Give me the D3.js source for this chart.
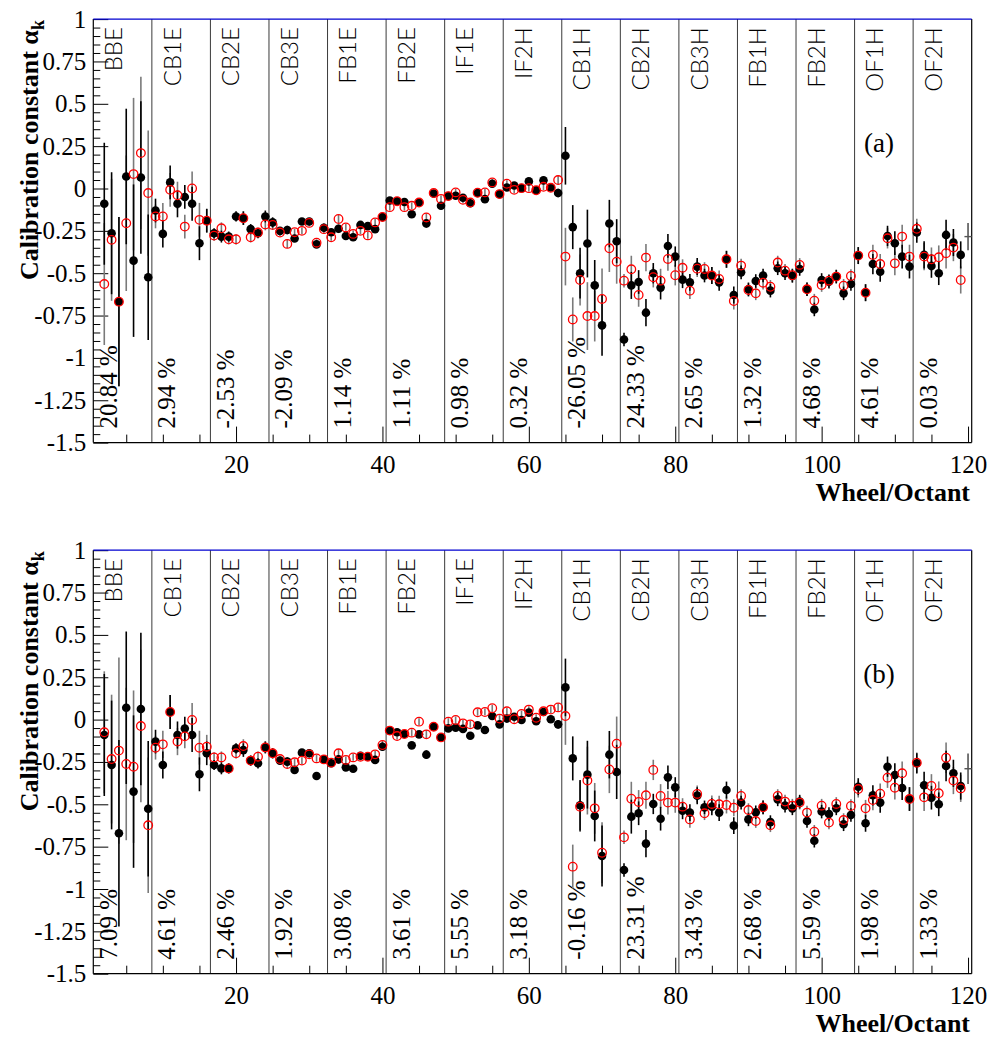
<!DOCTYPE html>
<html><head><meta charset="utf-8">
<script src="https://cdn.jsdelivr.net/npm/d3@7"></script>
<style>body{margin:0;background:#fff}svg{display:block}</style>
</head><body>
<svg id="c" width="989" height="1037"></svg>
<script>
// ---------------- data ----------------
const sections = ["BBE","CB1E","CB2E","CB3E","FB1E","FB2E","IF1E","IF2H","CB1H","CB2H","CB3H","FB1H","FB2H","OF1H","OF2H"];
const octantsPerSection = 8;
const pctA = ["20.84 %","2.94 %","-2.53 %","-2.09 %","1.14 %","1.11 %","0.98 %","0.32 %","-26.05 %","24.33 %","2.65 %","1.32 %","4.68 %","4.61 %","0.03 %"];
const pctB = ["7.09 %","4.61 %","2.46 %","1.92 %","3.08 %","3.61 %","5.55 %","3.18 %","-0.16 %","23.31 %","3.43 %","2.68 %","5.59 %","1.98 %","1.33 %"];
const xTickValues = [20,40,60,80,100,120];
const yTickValues = [1,0.75,0.5,0.25,0,-0.25,-0.5,-0.75,-1,-1.25,-1.5];
const panelTags = ["(a)","(b)"];

// panel (a): black = filled points, red = open points, index k = 1..120
const blackA = [null,-0.09,-0.264,-0.668,0.071,-0.426,0.065,-0.524,
 -0.13,-0.268,0.036,-0.09,-0.05,-0.09,-0.323,-0.19,
 -0.264,-0.284,-0.284,-0.165,-0.175,-0.24,-0.264,-0.165,
 -0.2,-0.25,-0.245,-0.295,-0.195,-0.195,-0.33,-0.232,
 -0.258,-0.238,-0.28,-0.288,-0.215,-0.222,-0.24,-0.168,
 -0.071,-0.075,-0.08,-0.152,-0.083,-0.206,-0.03,-0.102,
 -0.045,-0.043,-0.055,-0.087,-0.027,-0.063,0.028,-0.033,
 0.006,0.018,0.002,0.042,-0.01,0.048,0.006,-0.027,
 0.193,-0.228,-0.5,-0.325,-0.572,-0.808,-0.207,-0.311,
 -0.891,-0.572,-0.552,-0.733,-0.5,-0.585,-0.339,-0.402,
 -0.538,-0.554,-0.461,-0.514,-0.514,-0.554,-0.418,-0.629,
 -0.495,-0.595,-0.546,-0.514,-0.603,-0.471,-0.5,-0.516,
 -0.475,-0.595,-0.714,-0.54,-0.55,-0.52,-0.619,-0.564,
 -0.396,-0.615,-0.446,-0.491,-0.28,-0.323,-0.402,-0.461,
 -0.26,-0.392,-0.457,-0.5,-0.274,-0.319,-0.392,null];
const redA = [null,-0.564,-0.303,-0.668,-0.205,0.085,0.209,-0.027,
 -0.165,-0.165,-0.008,-0.04,-0.225,0.0,-0.185,-0.19,
 -0.278,-0.235,-0.3,-0.3,-0.175,-0.288,-0.26,-0.212,
 -0.215,-0.26,-0.327,-0.258,-0.25,-0.203,-0.32,-0.24,
 -0.288,-0.18,-0.23,-0.268,-0.25,-0.277,-0.2,-0.168,
 -0.11,-0.075,-0.11,-0.102,-0.083,-0.171,-0.027,-0.062,
 -0.045,-0.023,-0.067,-0.083,-0.025,-0.023,0.036,-0.033,
 0.028,-0.008,0.002,0.002,-0.01,0.01,0.004,0.05,
 -0.402,-0.773,-0.54,-0.753,-0.753,-0.652,-0.353,-0.432,
 -0.544,-0.477,-0.628,-0.408,-0.524,-0.544,-0.416,-0.512,
 -0.468,-0.603,-0.473,-0.475,-0.514,-0.534,-0.418,-0.664,
 -0.455,-0.599,-0.619,-0.556,-0.58,-0.437,-0.485,-0.512,
 -0.451,-0.595,-0.662,-0.57,-0.544,-0.52,-0.574,-0.516,
 -0.396,-0.615,-0.392,-0.446,-0.294,-0.442,-0.284,-0.402,
 -0.238,-0.402,-0.418,-0.406,-0.382,-0.349,-0.54,null];
const errA = [null,0.36,0.36,0.5,0.4,0.45,0.45,0.37,
 0.07,0.08,0.1,0.08,0.07,0.1,0.1,0.07,
 0.03,0.035,0.03,0.03,0.04,0.03,0.03,0.035,
 0.03,0.02,0.025,0.02,0.02,0.02,0.02,0.025,
 0.02,0.025,0.02,0.02,0.02,0.02,0.02,0.025,
 0.02,0.02,0.02,0.02,0.02,0.025,0.02,0.02,
 0.02,0.02,0.02,0.02,0.02,0.02,0.02,0.02,
 0.02,0.02,0.02,0.02,0.02,0.02,0.02,0.025,
 0.17,0.13,0.15,0.2,0.15,0.18,0.14,0.13,
 0.04,0.08,0.07,0.08,0.06,0.07,0.07,0.06,
 0.05,0.05,0.05,0.04,0.05,0.05,0.05,0.05,
 0.04,0.04,0.04,0.04,0.04,0.04,0.04,0.04,
 0.04,0.04,0.04,0.04,0.04,0.04,0.04,0.04,
 0.05,0.05,0.06,0.06,0.06,0.07,0.07,0.07,
 0.06,0.08,0.07,0.07,0.09,0.08,0.08,null];

// panel (b)
const blackB = [null,-0.091,-0.268,-0.671,0.07,-0.425,0.063,-0.526,
 -0.13,-0.268,0.045,-0.091,-0.053,-0.091,-0.323,-0.199,
 -0.268,-0.288,-0.288,-0.17,-0.18,-0.242,-0.258,-0.164,
 -0.199,-0.242,-0.248,-0.297,-0.195,-0.199,-0.333,-0.235,
 -0.258,-0.235,-0.282,-0.29,-0.213,-0.219,-0.238,-0.16,
 -0.065,-0.075,-0.085,-0.152,-0.087,-0.207,-0.042,-0.105,
 -0.052,-0.048,-0.055,-0.095,-0.034,-0.061,0.021,-0.028,
 0.006,0.017,-0.002,0.041,-0.01,0.045,0.002,-0.028,
 0.19,-0.229,-0.506,-0.325,-0.569,-0.805,-0.207,-0.309,
 -0.888,-0.573,-0.553,-0.732,-0.498,-0.585,-0.341,-0.4,
 -0.538,-0.549,-0.449,-0.518,-0.514,-0.549,-0.416,-0.626,
 -0.49,-0.589,-0.547,-0.518,-0.605,-0.471,-0.508,-0.524,
 -0.484,-0.599,-0.715,-0.543,-0.557,-0.524,-0.618,-0.563,
 -0.396,-0.612,-0.447,-0.49,-0.278,-0.327,-0.404,-0.469,
 -0.258,-0.388,-0.461,-0.5,-0.274,-0.317,-0.392,null];
const redB = [null,-0.075,-0.233,-0.183,-0.262,-0.278,-0.038,-0.624,
 -0.166,-0.146,0.045,-0.13,-0.099,-0.002,-0.166,-0.16,
 -0.223,-0.223,-0.288,-0.199,-0.156,-0.242,-0.219,-0.164,
 -0.199,-0.233,-0.262,-0.252,-0.242,-0.205,-0.229,-0.235,
 -0.254,-0.199,-0.238,-0.223,-0.219,-0.219,-0.205,-0.15,
 -0.065,-0.097,-0.085,-0.077,-0.012,-0.087,-0.042,-0.105,
 -0.012,-0.002,-0.022,-0.028,0.043,0.045,0.067,0.006,
 0.049,0.002,0.033,0.059,0.011,0.049,0.059,0.072,
 0.021,-0.868,-0.514,-0.36,-0.524,-0.786,-0.294,-0.142,
 -0.695,-0.467,-0.486,-0.447,-0.297,-0.451,-0.49,-0.49,
 -0.514,-0.589,-0.439,-0.553,-0.498,-0.5,-0.504,-0.52,
 -0.451,-0.534,-0.599,-0.518,-0.624,-0.451,-0.484,-0.508,
 -0.49,-0.549,-0.662,-0.508,-0.608,-0.498,-0.593,-0.51,
 -0.41,-0.524,-0.475,-0.437,-0.343,-0.402,-0.317,-0.469,
 -0.254,-0.459,-0.392,-0.435,-0.225,-0.36,-0.406,null];
const errB = [null,0.36,0.38,0.55,0.45,0.45,0.45,0.4,
 0.07,0.08,0.1,0.08,0.07,0.1,0.1,0.07,
 0.03,0.035,0.03,0.03,0.04,0.03,0.03,0.035,
 0.03,0.02,0.025,0.02,0.02,0.02,0.02,0.025,
 0.02,0.025,0.02,0.02,0.02,0.02,0.02,0.025,
 0.02,0.02,0.02,0.02,0.02,0.025,0.02,0.02,
 0.02,0.02,0.02,0.02,0.02,0.02,0.02,0.02,
 0.02,0.02,0.02,0.02,0.02,0.02,0.02,0.025,
 0.17,0.13,0.15,0.2,0.15,0.18,0.14,0.16,
 0.04,0.1,0.07,0.08,0.06,0.07,0.07,0.06,
 0.05,0.05,0.05,0.04,0.05,0.05,0.05,0.05,
 0.04,0.04,0.04,0.04,0.04,0.04,0.04,0.04,
 0.04,0.04,0.04,0.04,0.04,0.04,0.04,0.04,
 0.05,0.05,0.06,0.06,0.06,0.07,0.07,0.07,
 0.06,0.08,0.07,0.07,0.09,0.08,0.08,null];

// last bin (k = 120): drawn as an error cross only
const edgeIndex = 120;
const edgeValues = [-0.284, -0.29];
const edgeErrors = [0.08, 0.09];

// ---------------- drawing ----------------
const svg = d3.select("#c");
const nBins = sections.length * octantsPerSection;
const x = d3.scaleLinear().domain([0.5, nBins + 0.5]).range([93.3, 971.7]);
const serif = "'Liberation Serif', 'Times New Roman', serif";

function drawPanel(top, bottom, black, red, err, edgeV, edgeE, pct, tag) {
  const y = d3.scaleLinear().domain([-1.5, 1]).range([bottom, top]);
  const g = svg.append("g");

  // section dividers
  const bounds = d3.range(1, sections.length).map(i => i * octantsPerSection + 0.5);
  g.selectAll("line.div").data(bounds).join("line")
    .attr("x1", d => x(d)).attr("x2", d => x(d))
    .attr("y1", top).attr("y2", bottom)
    .attr("stroke", "#3a3a3a").attr("stroke-width", 1);

  // axes: x
  const xMinor = d3.range(5, nBins + 1, 5).filter(v => v % 20 !== 0);
  g.append("g").attr("transform", `translate(0,${bottom})`)
    .call(d3.axisBottom(x).tickValues(xMinor).tickSize(-8).tickFormat(""))
    .call(a => a.select(".domain").remove())
    .call(a => a.selectAll("line").attr("stroke", "#000"));
  g.append("g").attr("transform", `translate(0,${bottom})`)
    .call(d3.axisBottom(x).tickValues(xTickValues).tickSize(-16).tickPadding(13).tickFormat(d => String(d)))
    .call(a => a.select(".domain").remove())
    .call(a => a.selectAll("line").attr("stroke", "#000"))
    .call(a => a.selectAll("text").attr("font-family", serif).attr("font-size", 25).attr("fill", "#000"));

  // axes: y
  const yMinor = d3.range(-30, 21).map(i => i * 0.05).filter(v => Math.abs(Math.round(v / 0.25) * 0.25 - v) > 1e-6);
  g.append("g").attr("transform", `translate(${x.range()[0]},0)`)
    .call(d3.axisLeft(y).tickValues(yMinor).tickSize(-7).tickFormat(""))
    .call(a => a.select(".domain").remove())
    .call(a => a.selectAll("line").attr("stroke", "#000"));
  g.append("g").attr("transform", `translate(${x.range()[0]},0)`)
    .call(d3.axisLeft(y).tickValues(yTickValues).tickSize(-15).tickPadding(7).tickFormat(d => String(d)))
    .call(a => a.select(".domain").remove())
    .call(a => a.selectAll("line").attr("stroke", "#000"))
    .call(a => a.selectAll("text").attr("font-family", serif).attr("font-size", 25).attr("fill", "#000"));

  // frame
  const [x0, x1] = x.range();
  g.append("line").attr("x1", x0).attr("x2", x1).attr("y1", bottom).attr("y2", bottom).attr("stroke", "#000").attr("stroke-width", 1.2);
  g.append("line").attr("x1", x0).attr("x2", x0).attr("y1", top).attr("y2", bottom).attr("stroke", "#000").attr("stroke-width", 1.2);
  g.append("line").attr("x1", x1).attr("x2", x1).attr("y1", top).attr("y2", bottom).attr("stroke", "#000").attr("stroke-width", 1.2);
  g.append("line").attr("x1", x0).attr("x2", x1).attr("y1", top).attr("y2", top).attr("stroke", "#0000d0").attr("stroke-width", 1.2);

  // section labels
  g.selectAll("text.sec").data(sections).join("text")
    .attr("transform", (d, i) => `translate(${x(i * octantsPerSection + 0.5) + 20},${top + 8}) rotate(-90)`)
    .attr("text-anchor", "end").attr("dy", "0.36em")
    .attr("font-family", "Lato, 'DejaVu Sans', sans-serif").attr("font-weight", 300)
    .attr("font-size", 24).attr("fill", "#000").text(d => d);

  // percentage labels
  g.selectAll("text.pct").data(pct).join("text")
    .attr("transform", (d, i) => `translate(${x(i * octantsPerSection + 0.5) + 14.5},${bottom - 14}) rotate(-90)`)
    .attr("text-anchor", "start").attr("dy", "0.36em")
    .attr("font-family", serif).attr("font-size", 25).attr("fill", "#000").text(d => d);

  const idx = d3.range(nBins).map(i => ({ k: i + 1, b: black[i], r: red[i], e: err[i] }));
  // error bars for open (red) points, grey
  g.selectAll("line.er").data(idx.filter(d => d.r != null && d.e != null)).join("line")
    .attr("x1", d => x(d.k)).attr("x2", d => x(d.k))
    .attr("y1", d => y(Math.min(1, d.r + d.e))).attr("y2", d => y(Math.max(-1.5, d.r - d.e)))
    .attr("stroke", "#7a7a7a").attr("stroke-width", 1.6);
  // error bars for black points
  g.selectAll("line.eb").data(idx.filter(d => d.b != null && d.e != null)).join("line")
    .attr("x1", d => x(d.k)).attr("x2", d => x(d.k))
    .attr("y1", d => y(Math.min(1, d.b + d.e))).attr("y2", d => y(Math.max(-1.5, d.b - d.e)))
    .attr("stroke", "#000").attr("stroke-width", 1.6);
  // black markers
  g.selectAll("circle.b").data(idx.filter(d => d.b != null)).join("circle")
    .attr("cx", d => x(d.k)).attr("cy", d => y(d.b)).attr("r", 4.3).attr("fill", "#000");
  // red open markers
  g.selectAll("circle.r").data(idx.filter(d => d.r != null)).join("circle")
    .attr("cx", d => x(d.k)).attr("cy", d => y(d.r)).attr("r", 4.3)
    .attr("fill", "none").attr("stroke", "#ff0000").attr("stroke-width", 1.3);

  // last bin cross
  g.append("line").attr("x1", x(edgeIndex)).attr("x2", x(edgeIndex))
    .attr("y1", y(edgeV + edgeE)).attr("y2", y(edgeV - edgeE)).attr("stroke", "#555").attr("stroke-width", 1.6);
  g.append("line").attr("x1", x(edgeIndex) - 3.6).attr("x2", x(edgeIndex) + 3.6)
    .attr("y1", y(edgeV)).attr("y2", y(edgeV)).attr("stroke", "#555").attr("stroke-width", 1.4);

  // panel tag
  g.append("text").attr("x", 879).attr("y", top + 133).attr("text-anchor", "middle")
    .attr("font-family", serif).attr("font-size", 27).attr("fill", "#000").text(tag);

  // axis titles
  const yt = g.append("text").attr("transform", `translate(38,${top + 1}) rotate(-90)`)
    .attr("text-anchor", "end").attr("font-family", serif).attr("font-weight", "bold")
    .attr("font-size", 26).attr("fill", "#000");
  yt.append("tspan").text("Calibration constant \u03B1");
  yt.append("tspan").attr("font-size", 18).attr("dy", 6).text("k");
  g.append("text").attr("x", 970).attr("y", bottom + 58).attr("text-anchor", "end")
    .attr("font-family", serif).attr("font-weight", "bold").attr("font-size", 26).attr("fill", "#000")
    .text("Wheel/Octant");
}

drawPanel(19.1, 442.6, blackA, redA, errA, edgeValues[0], edgeErrors[0], pctA, panelTags[0]);
drawPanel(550.2, 973.7, blackB, redB, errB, edgeValues[1], edgeErrors[1], pctB, panelTags[1]);
</script>
</body></html>
